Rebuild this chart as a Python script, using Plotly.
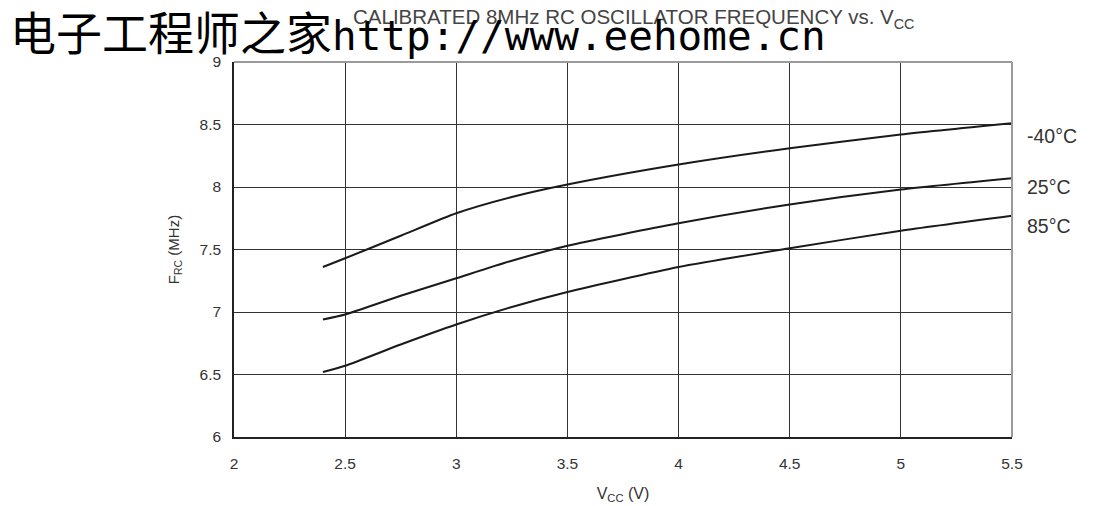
import plotly.graph_objects as go

# %%
vcc = [2.4, 2.5, 2.75, 3.0, 3.25, 3.5, 4.0, 4.5, 5.0, 5.5]
f_m40 = [7.36, 7.43, 7.61, 7.79, 7.92, 8.02, 8.18, 8.31, 8.42, 8.51]
f_25 = [6.94, 6.98, 7.13, 7.27, 7.41, 7.53, 7.71, 7.86, 7.98, 8.07]
f_85 = [6.52, 6.57, 6.74, 6.90, 7.04, 7.16, 7.36, 7.51, 7.65, 7.77]

series_names = ["-40°C", "25°C", "85°C"]
label_y = [8.41, 8.0, 7.69]

x_ticks = [2, 2.5, 3, 3.5, 4, 4.5, 5, 5.5]
y_ticks = [6, 6.5, 7, 7.5, 8, 8.5, 9]

# %%
fig = go.Figure()

for name, ys in zip(series_names, [f_m40, f_25, f_85]):
    fig.add_trace(
        go.Scatter(
            x=vcc,
            y=ys,
            mode="lines",
            line=dict(color="#1a1a1a", width=2, shape="spline", smoothing=0.6),
            name=name,
        )
    )

fig.update_layout(
    width=1094,
    height=506,
    margin=dict(l=226, r=90, t=54, b=77),
    plot_bgcolor="white",
    paper_bgcolor="white",
    showlegend=False,
    font=dict(family="Liberation Sans, Arial", color="#333333", size=15),
    title=dict(
        text="CALIBRATED 8MHz RC OSCILLATOR FREQUENCY vs. V<sub>CC</sub>",
        font=dict(size=20.5, color="#444444"),
        x=0.572,
        xanchor="center",
        y=0.982,
        yanchor="middle",
    ),
)

fig.update_xaxes(
    range=[2, 5.5],
    tickvals=x_ticks,
    ticktext=[str(t) for t in x_ticks],
    showgrid=True,
    gridcolor="#333333",
    gridwidth=1,
    showline=True,
    linecolor="#222222",
    linewidth=1.5,
    zeroline=False,
    ticks="",
    ticklabelstandoff=12,
    tickfont=dict(size=15.5, color="#333333"),
    title=dict(text="V<sub>CC</sub> (V)", font=dict(size=16, color="#333333"), standoff=16),
)
fig.update_yaxes(
    range=[6, 9],
    tickvals=y_ticks,
    ticktext=[str(t) for t in y_ticks],
    showgrid=True,
    gridcolor="#333333",
    gridwidth=1,
    showline=True,
    linecolor="#222222",
    linewidth=1.5,
    zeroline=False,
    ticks="",
    ticklabelstandoff=8,
    tickfont=dict(size=15.5, color="#333333"),
    title=dict(text="F<sub>RC</sub> (MHz)", font=dict(size=15, color="#333333"), standoff=16),
)

# gray frame at top and right
fig.add_shape(
    type="line", xref="paper", yref="paper", x0=0, x1=1, y0=1, y1=1,
    line=dict(color="#9a9a9a", width=2),
)
fig.add_shape(
    type="line", xref="paper", yref="paper", x0=1, x1=1, y0=0, y1=1,
    line=dict(color="#9a9a9a", width=2),
)

for name, ly in zip(series_names, label_y):
    fig.add_annotation(
        x=1.017, xref="paper", y=ly, yref="y",
        text=name, showarrow=False, xanchor="left",
        font=dict(size=19.5, color="#333333"),
    )

# watermark
fig.add_annotation(
    x=-0.2905, xref="paper", y=1.085, yref="paper",
    text="<span style='font-family:Noto Sans CJK SC'>电子工程师之家</span>"
    "<span style='font-family:DejaVu Sans Mono;font-size:41px'>http://www.eehome.cn</span>",
    showarrow=False, xanchor="left", yanchor="middle",
    font=dict(size=46, color="black"),
)

fig.write_html("out.html")
